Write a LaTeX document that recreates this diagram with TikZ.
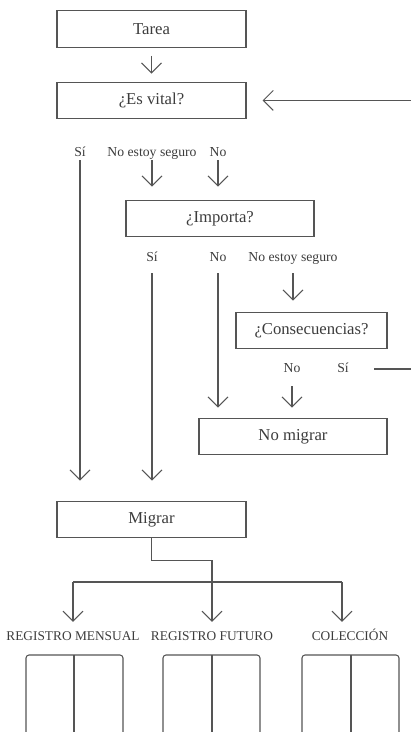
\documentclass[tikz,border=0pt]{standalone}
\usepackage{fontspec}
\setmainfont{Liberation Serif}
\usetikzlibrary{arrows.meta}
\definecolor{linegray}{RGB}{85,85,85}
\definecolor{textgray}{RGB}{60,60,60}
\tikzset{
	box/.style={draw=linegray,line width=0.6pt,minimum height=0.73cm,inner sep=0pt,text=textgray,font=\fontsize{9.5}{11}\selectfont},
	answer/.style={inner sep=0pt,text height=6pt,text depth=1.8pt,text=textgray,font=\fontsize{7.8}{9}\selectfont},
	logname/.style={inner sep=0pt,text height=5.4pt,text depth=0pt,text=textgray,font=\fontsize{7.6}{9}\selectfont},
	arr/.style={draw=linegray,line width=0.6pt,-{Straight Barb[length=2mm,width=4mm]}},
	link/.style={draw=linegray,line width=0.6pt}
}
\begin{document}
\begin{tikzpicture}[x=0.02cm,y=-0.02cm]
		\useasboundingbox (0,0) rectangle (411,732);
		\clip (0,0) rectangle (411,732);
		% boxes
		\node[box,minimum width=3.78cm] (tarea) at (151.5,29) {Tarea};
		\node[box,minimum width=3.78cm] (vital) at (151.5,100.5) {¿Es vital?};
		\node[box,minimum width=3.76cm] (importa) at (220,218.5) {¿Importa?};
		\node[box,minimum width=3.02cm] (consec) at (311.5,330.5) {¿Consecuencias?};
		\node[box,minimum width=3.76cm] (nomig) at (293,436.5) {No migrar};
		\node[box,minimum width=3.78cm] (migrar) at (151.5,519.5) {Migrar};
		% answers
		\node[answer] (sivital) at (80,153) {Sí};
		\node[answer] (nsvital) at (152,153) {No estoy seguro};
		\node[answer] (novital) at (218,153) {No};
		\node[answer] (siimp) at (152,258) {Sí};
		\node[answer] (noimp) at (218,258) {No};
		\node[answer] (nsimp) at (293,258) {No estoy seguro};
		\node[answer] (nocons) at (292,369) {No};
		\node[answer] (sicons) at (343,369) {Sí};
		% logs
		\node[logname] (mensual) at (73,636) {REGISTRO MENSUAL};
		\node[logname] (futuro) at (212,636) {REGISTRO FUTURO};
		\node[logname] (coleccion) at (350,636) {COLECCIÓN};
		\coordinate (loop) at (440,0);
		\coordinate (barl) at (73,582);
		\coordinate (barr) at (342,582);
		% connectors
		\draw[arr,shorten <=1.6mm,shorten >=1.6mm] (tarea) -- (vital);
		\draw[arr,shorten >=4mm] (sivital.south) -- (sivital.south |- migrar.north);
		\draw[arr,shorten >=2.6mm] (nsvital.south) -- (nsvital.south |- importa.north);
		\draw[arr,shorten >=2.6mm] (novital.south) -- (novital.south |- importa.north);
		\draw[arr,shorten <=1.6mm,shorten >=4mm] (siimp.south) -- (siimp.south |- migrar.north);
		\draw[arr,shorten <=1.6mm,shorten >=2mm] (noimp.south) -- (noimp.south |- nomig.north);
		\draw[arr,shorten <=1.6mm,shorten >=2.2mm] (nsimp.south) -- (nsimp.south |- consec.north);
		\draw[arr,shorten <=2mm,shorten >=2mm] (nocons.south) -- (nocons.south |- nomig.north);
		\draw[arr,shorten <=5mm,shorten >=3.2mm] (sicons.east) -- (sicons.east -| loop) |- (vital.east);
		\draw[arr,shorten >=1.8mm] (migrar.south) -- ++(0,22) -| (futuro.north);
		\draw[link] (barl) -- (barr);
		\draw[arr,shorten >=1.8mm] (barl) -- (barl |- mensual.north);
		\draw[arr,shorten >=1.8mm] (barr) -- (barr |- coleccion.north);
		% open pages at the bottom
		\foreach \l/\m/\r in {26/74/123,163/212/260,302/351/399}{
			\draw[link,rounded corners=0.6mm] (\l,760) -- (\l,655) -- (\r,655) -- (\r,760);
			\draw[link] (\m,655) -- (\m,760);
		}
	\end{tikzpicture}
\end{document}
